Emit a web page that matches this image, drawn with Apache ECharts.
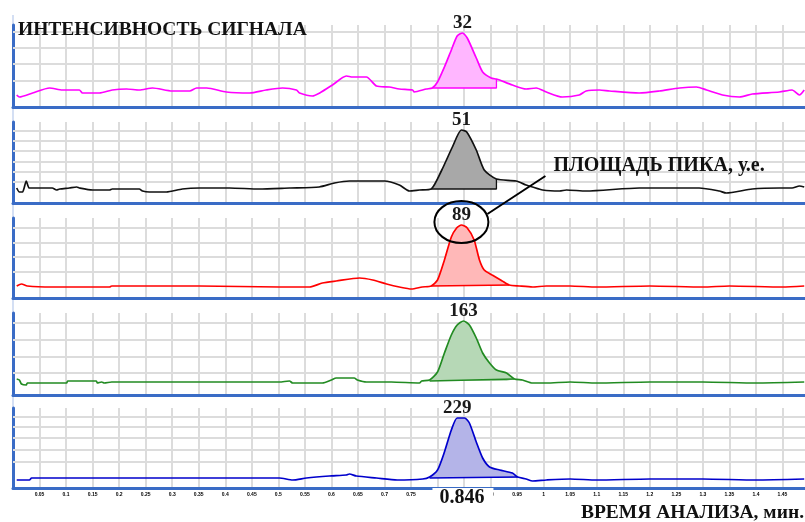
<!DOCTYPE html>
<html><head><meta charset="utf-8">
<script src="https://cdn.jsdelivr.net/npm/echarts@6/dist/echarts.min.js"></script>
<style>html,body{margin:0;padding:0;background:#fff}#c{width:805px;height:522px}</style>
</head><body><div id="c"></div>
<script>
// ---- DATA (time, min ; signal, arbitrary units) ----
const xMin = 0, xMax = 1.5, xStep = 0.05;
const trace1 = [[0.007,12],[0.012,10],[0.037,14],[0.069,19],[0.093,17],[0.125,17],[0.131,14],[0.163,14],[0.187,17],[0.214,18],[0.238,17],[0.263,19],[0.300,16],[0.333,16],[0.346,19],[0.365,19],[0.402,15],[0.446,14],[0.477,17],[0.508,19],[0.534,17],[0.540,14],[0.564,11],[0.578,14],[0.602,22],[0.628,31],[0.640,30],[0.666,30],[0.685,21],[0.709,20],[0.728,18],[0.753,17],[0.756,15],[0.779,18],[0.790,19],[0.800,25],[0.813,40],[0.826,57],[0.837,71],[0.847,74],[0.856,69],[0.873,49],[0.885,35],[0.901,29],[0.911,28],[0.917,27],[0.941,22],[0.967,18],[0.986,19],[1.005,15],[1.035,10],[1.067,12],[1.080,16],[1.105,17],[1.124,16],[1.180,14],[1.218,16],[1.256,19],[1.288,20],[1.307,17],[1.337,12],[1.369,10],[1.393,13],[1.444,15],[1.468,17],[1.482,12],[1.491,17]];
const trace2 = [[0.007,15],[0.012,11],[0.018,11],[0.025,22],[0.031,15],[0.074,15],[0.082,13],[0.088,14],[0.106,15],[0.120,16],[0.125,15],[0.150,13],[0.182,13],[0.187,14],[0.238,14],[0.244,12],[0.257,11],[0.289,11],[0.319,14],[0.351,15],[0.408,15],[0.464,14],[0.521,15],[0.577,16],[0.606,20],[0.634,22],[0.700,22],[0.728,18],[0.747,12],[0.766,13],[0.788,14],[0.808,33],[0.828,56],[0.845,73],[0.855,71],[0.873,53],[0.888,33],[0.911,24],[0.948,22],[0.967,18],[0.979,16],[0.998,13],[1.030,12],[1.043,13],[1.080,12],[1.180,15],[1.293,15],[1.331,12],[1.344,10],[1.393,14],[1.444,15],[1.468,15],[1.482,17],[1.491,16]];
const trace3 = [[0.007,12],[0.016,14],[0.027,12],[0.073,11],[0.182,11],[0.186,12],[0.219,12],[0.351,12],[0.502,11],[0.559,11],[0.583,15],[0.609,17],[0.653,20],[0.678,18],[0.704,14],[0.728,11],[0.751,9],[0.771,11],[0.788,12],[0.800,18],[0.813,38],[0.826,61],[0.836,70],[0.845,73],[0.856,70],[0.869,58],[0.879,38],[0.888,28],[0.903,23],[0.922,17],[0.935,13],[0.954,12],[0.979,11],[1.005,12],[1.050,12],[1.100,11],[1.200,12],[1.300,11],[1.350,12],[1.450,11],[1.491,12]];
const trace4 = [[0.007,16],[0.012,15],[0.016,11],[0.025,10],[0.027,12],[0.101,12],[0.103,14],[0.157,14],[0.159,12],[0.167,13],[0.172,12],[0.186,13],[0.219,13],[0.351,13],[0.446,13],[0.502,13],[0.521,14],[0.527,12],[0.583,12],[0.600,15],[0.609,17],[0.643,17],[0.649,15],[0.666,13],[0.713,13],[0.766,12],[0.770,14],[0.785,15],[0.800,23],[0.813,42],[0.826,60],[0.837,70],[0.849,74],[0.860,70],[0.873,57],[0.885,42],[0.898,32],[0.911,25],[0.930,22],[0.945,16],[0.960,15],[0.979,12],[1.005,12],[1.050,13],[1.100,12],[1.200,13],[1.300,13],[1.400,12],[1.491,13]];
const trace5 = [[0.007,8],[0.031,8],[0.035,10],[0.219,10],[0.351,10],[0.502,10],[0.527,8],[0.553,10],[0.596,12],[0.628,13],[0.634,14],[0.647,12],[0.685,10],[0.724,8],[0.772,9],[0.785,11],[0.800,18],[0.813,36],[0.826,58],[0.837,70],[0.851,70],[0.860,65],[0.873,46],[0.885,30],[0.898,21],[0.917,18],[0.941,15],[0.951,11],[0.967,9],[0.979,7],[1.005,8],[1.050,9],[1.100,8],[1.200,9],[1.300,9],[1.400,8],[1.491,9]];
const peakStart = [0.790, 0.788, 0.788, 0.785, 0.785];
const peakEnd   = [0.911, 0.911, 0.935, 0.945, 0.951];
const peakBase  = [19, 14, 12, 14, 10];
const peakArea  = [32, 51, 89, 163, 229];
const retentionTime = 0.846;
const yMaxes = [82, 81, 80, 82, 80];
const gridLevels = [[26,43,59,75],[21,31,41,52,62,72],[26,41,55,70],[22,38,55,72],[26,38,50,61,71]];
const titleText = 'ИНТЕНСИВНОСТЬ СИГНАЛА';
const xAxisTitle = 'ВРЕМЯ АНАЛИЗА, мин.';
const calloutText = 'ПЛОЩАДЬ ПИКА, у.е.';

// ---- STYLE ----
const traces = [trace1, trace2, trace3, trace4, trace5];
const lineColors = ['#ff00ff', '#111111', '#ff0000', '#228b22', '#0000cc'];
const fillColors = ['#ffb6ff', '#a8a8a8', '#ffb8b8', '#b6d8b6', '#b4b4e8'];
const tops = [25, 122, 218, 313, 408];
const LEFT = 13, WIDTH = 796;
const AXIS_BLUE = '#3a6cc6', GRID_GREY = '#dcdcdc';
const SERIF = '"Liberation Serif","DejaVu Serif",serif';
const SMOOTH = 0.22;

const chart = echarts.init(document.getElementById('c'), null, {renderer: 'canvas'});
const grids = [], xAxes = [], yAxes = [], series = [];
const peakPoints = [];
traces.forEach((tr, i) => {
  grids.push({left: LEFT, top: tops[i], width: WIDTH, height: yMaxes[i], outerBoundsMode: 'none', containLabel: false});
  xAxes.push({
    type: 'value', gridIndex: i, min: xMin, max: xMax, interval: xStep,
    axisLine: {show: true, onZero: false, lineStyle: {color: AXIS_BLUE, width: 3}},
    axisTick: {show: false},
    splitLine: {show: true, lineStyle: {color: GRID_GREY, width: 2}},
    axisLabel: i === 4 ? {
      show: true, fontSize: 5, fontWeight: 'bold', color: '#000', margin: 4,
      showMinLabel: false, showMaxLabel: false,
      formatter: v => String(+(+v).toFixed(2))
    } : {show: false}
  });
  yAxes.push({
    type: 'value', gridIndex: i, min: 0, max: yMaxes[i],
    axisLine: {show: true, onZero: false, lineStyle: {color: AXIS_BLUE, width: 3}},
    axisTick: {show: false}, axisLabel: {show: false}, splitLine: {show: false}
  });
  // horizontal grid lines
  series.push({
    type: 'line', xAxisIndex: i, yAxisIndex: i, data: [], z: 1, silent: true,
    markLine: {silent: true, z: 1, symbol: ['none', 'none'], label: {show: false}, animation: false,
      lineStyle: {color: GRID_GREY, width: 2, type: 'solid'},
      data: gridLevels[i].map(v => ({yAxis: v}))}
  });
  // peak integration region (filled area down to the integration baseline)
  const pts = tr.filter(p => p[0] >= peakStart[i] && p[0] <= peakEnd[i]);
  let pk = pts[0];
  pts.forEach(p => { if (p[1] > pk[1]) pk = p; });
  peakPoints.push(pk);
  series.push({
    type: 'line', xAxisIndex: i, yAxisIndex: i, data: pts, z: 2, silent: true,
    symbol: 'none', showSymbol: false, smooth: SMOOTH,
    lineStyle: {width: 0, opacity: 0},
    areaStyle: {color: fillColors[i], opacity: 1, origin: peakBase[i]},
    markPoint: {
      silent: true, z: 6, symbol: 'circle', symbolSize: 0, animation: false,
      data: [{coord: pk, value: peakArea[i]}],
      label: {show: true, position: 'top', distance: 0, formatter: String(peakArea[i]),
        fontFamily: SERIF, fontWeight: 'bold', fontSize: 19, color: '#1a1a1a'}
    }
  });
  // integration box edges: right drop and baseline
  const last = pts[pts.length - 1];
  series.push({
    type: 'line', xAxisIndex: i, yAxisIndex: i, z: 3, silent: true,
    data: [last, [peakEnd[i], peakBase[i]], [peakStart[i], peakBase[i]]],
    symbol: 'none', showSymbol: false,
    lineStyle: {color: lineColors[i], width: 1.3}
  });
  // full trace
  series.push({
    type: 'line', xAxisIndex: i, yAxisIndex: i, data: tr, z: 4, silent: true,
    symbol: 'none', showSymbol: false, smooth: SMOOTH,
    lineStyle: {color: lineColors[i], width: 1.7}
  });
});

chart.setOption({
  animation: false,
  backgroundColor: '#ffffff',
  grid: grids, xAxis: xAxes, yAxis: yAxes, series: series
});

// annotations positioned from the axes
const p3 = chart.convertToPixel({gridIndex: 2}, peakPoints[2]);
const rtX = chart.convertToPixel({gridIndex: 4}, [retentionTime, 0])[0];
const ec = [p3[0], p3[1] - 3];
chart.setOption({
  graphic: [
    {type: 'line', z: 0, shape: {x1: LEFT, y1: 15, x2: LEFT, y2: 490}, style: {stroke: '#a9bfe8', lineWidth: 1}},
    {type: 'text', z: 10, x: 18, y: 30, style: {text: titleText, font: 'bold 19.5px ' + SERIF, fill: '#111', align: 'left', verticalAlign: 'middle'}},
    {type: 'text', z: 10, x: 804, y: 513, style: {text: xAxisTitle, font: 'bold 19.5px ' + SERIF, fill: '#111', align: 'right', verticalAlign: 'middle'}},
    {type: 'text', z: 10, x: rtX + 1, y: 498, style: {text: '0.846', font: 'bold 20px ' + SERIF, fill: '#111', align: 'center', verticalAlign: 'middle', backgroundColor: '#fff', padding: [0, 9, 0, 7]}},
    {type: 'ellipse', z: 10, shape: {cx: ec[0], cy: ec[1], rx: 27, ry: 21}, style: {fill: 'none', stroke: '#000', lineWidth: 2}},
    {type: 'line', z: 10, shape: {x1: ec[0] + 26, y1: ec[1] - 8, x2: ec[0] + 84, y2: ec[1] - 46}, style: {stroke: '#000', lineWidth: 2}},
    {type: 'text', z: 10, x: ec[0] + 92, y: 166, style: {text: calloutText, font: 'bold 20px ' + SERIF, fill: '#111', align: 'left', verticalAlign: 'middle'}}
  ]
});
</script></body></html>
